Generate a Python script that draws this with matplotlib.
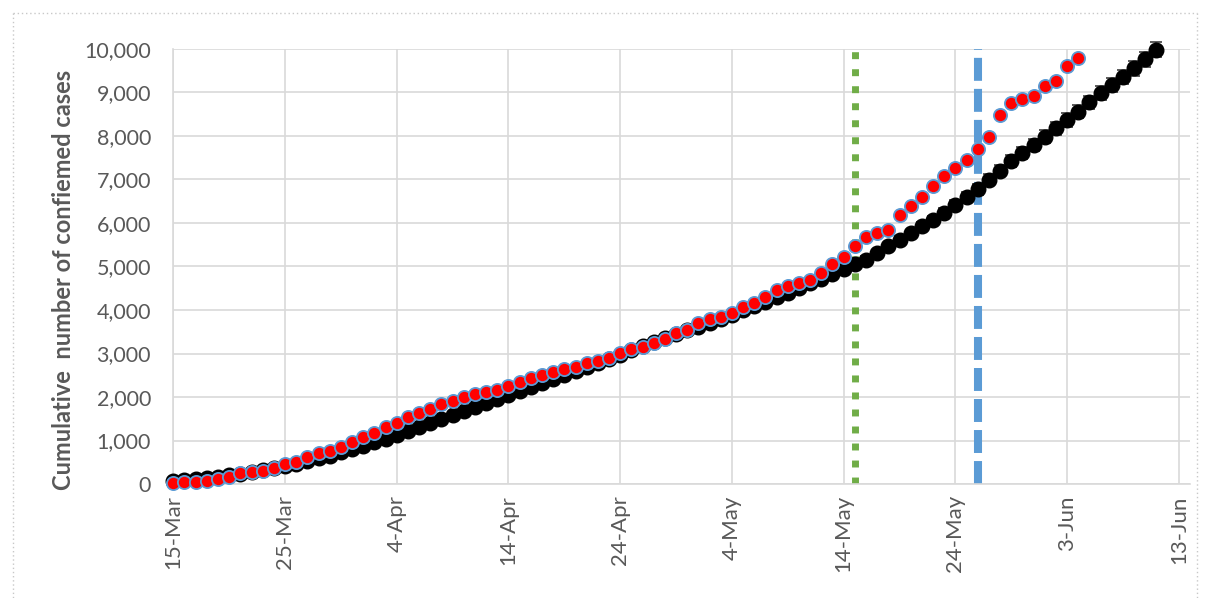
import numpy as np
import matplotlib
matplotlib.use("Agg")
import matplotlib.pyplot as plt
import matplotlib.dates as mdates
from matplotlib.lines import Line2D

plt.rcParams['font.family'] = ['Lato', 'DejaVu Sans']

# observed cumulative cases, daily from 15-Mar-2020
observed = [30, 35, 50, 70, 110, 150, 245, 285, 305, 375,
            450, 515, 615, 705, 765, 860, 975, 1075, 1165, 1320,
            1410, 1550, 1640, 1715, 1830, 1915, 1990, 2070, 2120, 2160,
            2250, 2350, 2430, 2505, 2565, 2635, 2680, 2775, 2830, 2890,
            3005, 3105, 3160, 3235, 3325, 3465, 3540, 3695, 3785, 3845,
            3925, 4060, 4155, 4305, 4460, 4550, 4630, 4690, 4860, 5055,
            5225, 5470, 5680, 5760, 5840, 6180, 6390, 6590, 6850, 7070,
            7270, 7450, 7690, 7980, 8480, 8750, 8840, 8930, 9160, 9270,
            9610, 9790]

# model cumulative cases, daily from 15-Mar-2020
model = [70, 90, 110, 135, 165, 200, 235, 275, 320, 365,
         420, 470, 530, 590, 655, 725, 800, 880, 960, 1045,
         1130, 1220, 1310, 1400, 1490, 1580, 1675, 1770, 1865, 1960,
         2050, 2140, 2230, 2320, 2410, 2500, 2595, 2690, 2785, 2880,
         2975, 3070, 3165, 3260, 3350, 3440, 3530, 3620, 3710, 3800,
         3890, 3990, 4090, 4190, 4290, 4390, 4500, 4610, 4720, 4830,
         4940, 5050, 5160, 5300, 5460, 5610, 5760, 5920, 6070, 6240,
         6410, 6600, 6770, 6990, 7200, 7430, 7600, 7790, 7980, 8180,
         8370, 8560, 8770, 8980, 9170, 9360, 9560, 9760, 9980]

model_err = [0] * 60 + [60, 65, 70, 75, 80, 85, 90, 95, 100, 105,
                        110, 115, 120, 125, 130, 135, 140, 145, 150, 150,
                        155, 155, 160, 160, 165, 165, 170, 170, 175]

start = np.datetime64('2020-03-15')
obs_dates = start + np.arange(len(observed))
model_dates = start + np.arange(len(model))

line_green = np.datetime64('2020-05-15')
line_blue = np.datetime64('2020-05-26')

grey = "#595959"
grid = "#d9d9d9"

fig = plt.figure(figsize=(12.07, 5.98), dpi=100)
ax = fig.add_axes([0.1436, 0.1906, 0.8423, 0.7275])

eb = ax.errorbar(model_dates, model, yerr=model_err, fmt='none', ecolor="#404040",
                 elinewidth=1.2, capsize=4.5, capthick=1.2, zorder=3)
for art in eb.lines[1] + eb.lines[2]:
    art.set_clip_on(False)
ax.plot(model_dates, model, 'o', color='black', markersize=10.5, zorder=4,
        clip_on=False)
ax.plot(obs_dates, observed, 'o', markerfacecolor='#ff0000',
        markeredgecolor='#5b9bd5', markeredgewidth=1.3, markersize=9.5, zorder=5,
        clip_on=False)

ax.plot([line_green, line_green], [0, 10000], color="#70ad47", lw=5,
        dashes=(1, 1.45), solid_capstyle='butt', dash_capstyle='butt', zorder=2)
ax.plot([line_blue, line_blue], [0, 10000], color="#5b9bd5", lw=5.8,
        dashes=(2.85, 1.0), dash_capstyle='butt', zorder=2)

ax.set_xlim(np.datetime64('2020-03-15'), np.datetime64('2020-06-14'))
ax.set_ylim(0, 10000)
ax.set_xticks(start + np.arange(0, 91, 10))
ax.xaxis.set_major_formatter(mdates.DateFormatter('%-d-%b'))
ax.set_yticks(np.arange(0, 10001, 1000))
ax.yaxis.set_major_formatter(matplotlib.ticker.FuncFormatter(lambda v, p: f"{int(v):,}"))

ax.grid(True, color=grid, lw=1.2, zorder=0)
ax.set_axisbelow(True)
for s in ['top', 'right']:
    ax.spines[s].set_visible(False)
ax.spines['left'].set_color(grid)
ax.spines['bottom'].set_color(grid)
ax.spines['left'].set_linewidth(1.2)
ax.spines['bottom'].set_linewidth(1.2)

ax.tick_params(axis='y', length=0, labelsize=15.5, labelcolor=grey, pad=16)
ax.tick_params(axis='x', length=0, labelsize=16, labelcolor=grey, pad=8)
plt.setp(ax.get_xticklabels(), rotation=90)

ax.set_ylabel("Cumulative  number of confiemed cases", fontsize=17,
              fontweight='bold', color=grey)
ax.yaxis.set_label_coords(-0.097, 0.47)

# dotted chart-area border
b = dict(color="#c8c8c8", lw=1, ls=(0, (1, 2)), transform=fig.transFigure)
l, t, r = 13 / 1207, 1 - 13 / 598, 1197 / 1207
fig.add_artist(Line2D([l, r], [t, t], **b))
fig.add_artist(Line2D([l, l], [t, 0], **b))
fig.add_artist(Line2D([r, r], [t, 0], **b))

fig.savefig("out.png", dpi=100)
